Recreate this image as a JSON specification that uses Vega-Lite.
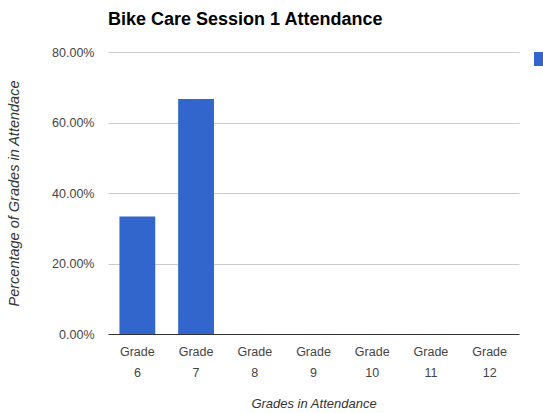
{
  "$schema": "https://vega.github.io/schema/vega-lite/v6.json",
  "autosize": {"type": "none"},
  "width": 411,
  "height": 282,
  "padding": {"left": 108, "top": 52, "right": 24, "bottom": 79},
  "background": "white",
  "title": {
    "text": "Bike Care Session 1 Attendance",
    "anchor": "start",
    "frame": "group",
    "font": "Liberation Sans",
    "fontSize": 18,
    "fontWeight": "bold",
    "color": "#000000",
    "offset": 17
  },
  "data": {
    "values": [
      {"grade": "Grade 6", "pct": 0.3333},
      {"grade": "Grade 7", "pct": 0.6667},
      {"grade": "Grade 8", "pct": 0},
      {"grade": "Grade 9", "pct": 0},
      {"grade": "Grade 10", "pct": 0},
      {"grade": "Grade 11", "pct": 0},
      {"grade": "Grade 12", "pct": 0}
    ]
  },
  "mark": {"type": "bar"},
  "encoding": {
    "x": {
      "field": "grade",
      "type": "nominal",
      "sort": null,
      "scale": {"paddingInner": 0.39, "paddingOuter": 0.195},
      "axis": {
        "labelExpr": "split(datum.label, ' ')",
        "labelAngle": 0,
        "labelFont": "Liberation Sans",
        "labelFontSize": 12.5,
        "labelColor": "#444444",
        "labelLineHeight": 21,
        "labelPadding": 11,
        "ticks": false,
        "domainColor": "#333333",
        "domainWidth": 1,
        "title": "Grades in Attendance",
        "titleFont": "Liberation Sans",
        "titleFontSize": 13,
        "titleFontStyle": "italic",
        "titleFontWeight": "normal",
        "titleColor": "#333333",
        "titlePadding": 19
      }
    },
    "y": {
      "field": "pct",
      "type": "quantitative",
      "scale": {"domain": [0, 0.8]},
      "axis": {
        "values": [0, 0.2, 0.4, 0.6, 0.8],
        "format": ".2%",
        "labelFont": "Liberation Sans",
        "labelFontSize": 12.5,
        "labelColor": "#444444",
        "labelPadding": 14,
        "ticks": false,
        "domain": false,
        "gridColor": "#cccccc",
        "title": "Percentage of Grades in Attendace",
        "titleFont": "Liberation Sans",
        "titleFontSize": 14.5,
        "titleFontStyle": "italic",
        "titleFontWeight": "normal",
        "titleColor": "#333333",
        "titlePadding": 30
      }
    },
    "color": {
      "datum": "Percentage",
      "type": "nominal",
      "scale": {"range": ["#3366CC"]},
      "legend": {
        "title": null,
        "orient": "right",
        "offset": 15,
        "symbolType": "square",
        "symbolSize": 196,
        "symbolStrokeWidth": 0,
        "labelExpr": "''",
        "labelFont": "Liberation Sans",
        "labelFontSize": 12,
        "labelColor": "#222222"
      }
    }
  },
  "config": {"view": {"stroke": null}}
}
